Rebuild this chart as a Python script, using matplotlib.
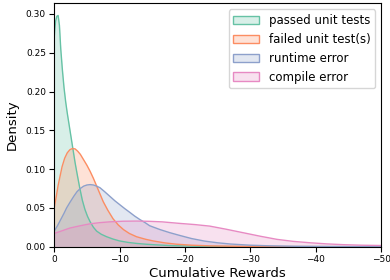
import matplotlib
matplotlib.use("Agg")
import matplotlib.pyplot as plt
from matplotlib.colors import to_rgba
from matplotlib.patches import Patch
from matplotlib.ticker import FormatStrFormatter

# Density curves (x = cumulative reward, y = density)
labels = ["passed unit tests", "failed unit test(s)", "runtime error", "compile error"]
colors = ["#66c2a5", "#fc8d62", "#8da0cb", "#e78ac3"]

passed_x = [0, -0.2, -0.4, -0.6, -0.8, -1.0, -1.25, -1.5, -1.75, -2.0, -2.3, -2.6, -2.9,
            -3.2, -3.5, -3.9, -4.3, -4.7, -5.1, -5.5, -6.0, -6.5, -7.2, -8.0, -9.0, -10.0,
            -11.3, -12.6, -14.0, -15.5, -18.0, -22.0, -28.0, -50.0]
passed_y = [0.27, 0.29, 0.297, 0.298, 0.285, 0.255, 0.228, 0.205, 0.187, 0.172, 0.156,
            0.140, 0.124, 0.108, 0.094, 0.076, 0.060, 0.048, 0.039, 0.032, 0.025, 0.020,
            0.016, 0.0129, 0.0098, 0.0074, 0.0055, 0.0042, 0.0032, 0.0024, 0.0013, 0.0005,
            0.0001, 0.0]

failed_x = [0, -0.3, -0.6, -0.9, -1.2, -1.6, -2.0, -2.4, -2.8, -3.2, -3.6, -4.0, -4.5,
            -5.0, -5.5, -6.0, -6.5, -7.0, -7.5, -8.2, -9.0, -9.8, -10.6, -11.5, -12.6,
            -14.0, -15.2, -17.0, -18.7, -21.0, -24.0, -28.0, -35.0, -50.0]
failed_y = [0.050, 0.064, 0.079, 0.091, 0.103, 0.114, 0.121, 0.125, 0.1265, 0.126, 0.123,
            0.119, 0.112, 0.105, 0.097, 0.088, 0.078, 0.068, 0.058, 0.047, 0.036, 0.028,
            0.022, 0.017, 0.0128, 0.0095, 0.0073, 0.0048, 0.0032, 0.0019, 0.001, 0.0005,
            0.0001, 0.0]

runtime_x = [0, -0.5, -1.0, -1.5, -1.9, -2.4, -3.0, -3.5, -4.0, -4.5, -5.0, -5.5, -6.0,
             -6.5, -7.0, -7.7, -8.5, -9.3, -10.05, -10.8, -11.6, -12.3, -13.1, -13.9, -14.6,
             -15.4, -16.2, -17.7, -19.2, -21.0, -23.0, -25.0, -27.0, -30.0, -33.0, -37.0,
             -42.0, -50.0]
runtime_y = [0.020, 0.027, 0.035, 0.043, 0.050, 0.057, 0.065, 0.071, 0.075, 0.078, 0.0795,
             0.080, 0.0795, 0.078, 0.076, 0.071, 0.065, 0.059, 0.054, 0.049, 0.044, 0.0395,
             0.035, 0.031, 0.027, 0.0245, 0.022, 0.018, 0.0145, 0.0105, 0.0072, 0.005,
             0.0034, 0.0019, 0.0011, 0.0005, 0.0002, 0.0]

compile_x = [0, -1.2, -2.4, -4.0, -5.5, -7.0, -8.5, -10.5, -12.6, -14.5, -16.5, -19.2,
             -21.5, -23.8, -26.3, -28.9, -31.5, -34.1, -36.6, -39.2, -41.7, -44.2, -47.0,
             -50.0]
compile_y = [0.017, 0.0205, 0.024, 0.027, 0.0295, 0.031, 0.032, 0.0328, 0.033, 0.0327,
             0.032, 0.030, 0.0285, 0.0265, 0.0225, 0.018, 0.0135, 0.0094, 0.0068, 0.005,
             0.0036, 0.0026, 0.0019, 0.0015]

series = [(passed_x, passed_y), (failed_x, failed_y), (runtime_x, runtime_y), (compile_x, compile_y)]

fig, ax = plt.subplots(figsize=(3.9, 2.8), dpi=100)
fig.subplots_adjust(left=0.139, right=0.977, bottom=0.119, top=0.988)

for (xs, ys), c in zip(series, colors):
    ax.fill_between(xs, ys, 0, color=c, alpha=0.25, linewidth=0)
    ax.plot(xs, ys, color=c, linewidth=1)

ax.set_xlim(0, -50)
ax.set_ylim(0, 0.3136)
ax.set_xticks([0, -10, -20, -30, -40, -50])
ax.set_yticks([0, 0.05, 0.10, 0.15, 0.20, 0.25, 0.30])
ax.yaxis.set_major_formatter(FormatStrFormatter("%.2f"))
ax.tick_params(labelsize=6.5, pad=2.5)
ax.set_xlabel("Cumulative Rewards", fontsize=9.5, labelpad=2)
ax.set_ylabel("Density", fontsize=9.5, labelpad=5)

handles = [Patch(facecolor=to_rgba(c, 0.25), edgecolor=c, linewidth=1) for c in colors]
ax.legend(handles, labels, loc="upper right", fontsize=8.5, frameon=True,
          borderaxespad=0.5, handlelength=2.2)

fig.savefig("out.png", dpi=100)
